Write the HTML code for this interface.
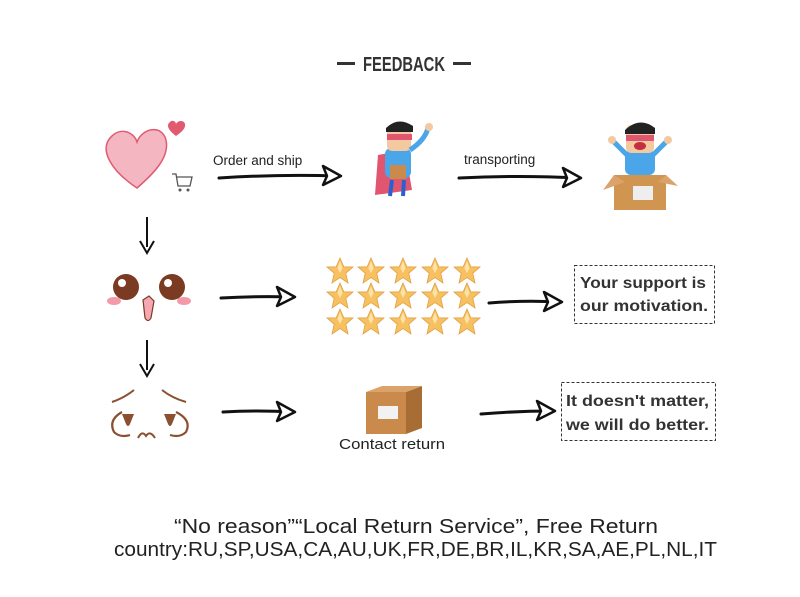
<!DOCTYPE html>
<html><head><meta charset="utf-8"><style>
html,body{margin:0;padding:0;background:#fff}
svg{display:block}
text{font-family:"Liberation Sans",sans-serif}
</style></head><body>
<svg width="800" height="597" viewBox="0 0 800 597" xmlns="http://www.w3.org/2000/svg">
<defs>
<g id="star"><polygon points="0,-13 3.8,-4.2 13,-4 5.8,2.2 8,12 0,6.6 -8,12 -5.8,2.2 -13,-4 -3.8,-4.2" fill="#f7c060" stroke="#e0a040" stroke-width="0.8"/><polygon points="0,-10 2.6,-3 0,2 -2.6,-3" fill="#fde3a8"/></g>
<g id="head"><path d="M-18,-10 L0,0 L-18,9 L-14,0 Z" stroke="#111" stroke-width="2.5" fill="#fff" stroke-linejoin="round"/></g>
<g id="varr"><path d="M0,0 L0,30" stroke="#111" stroke-width="2" fill="none"/><path d="M-7,24 L0,36 L7,24" stroke="#111" stroke-width="2" fill="none"/></g>
<g id="box"><polygon points="0,8 40,8 40,50 0,50" fill="#c98a4c"/><polygon points="40,8 56,2 56,44 40,50" fill="#a86c35"/><polygon points="0,8 16,2 56,2 40,8" fill="#dba36a"/><rect x="12" y="22" width="20" height="13" fill="#f2f2f2"/></g>
</defs>
<!-- title -->
<rect x="337" y="62" width="18" height="3" fill="#333"/>
<rect x="453" y="62" width="18" height="3" fill="#333"/>
<text x="404" y="71" font-size="20" font-weight="bold" fill="#333" text-anchor="middle" textLength="82" lengthAdjust="spacingAndGlyphs">FEEDBACK</text>
<!-- heart -->
<path d="M137,188 C110,170 100,150 110,138 C120,126 134,132 137,142 C142,128 162,124 166,140 C170,158 152,175 137,188 Z" fill="#f4b6c0" stroke="#e05a70" stroke-width="1.5"/>
<path d="M176,136 C168,130 166,125 170,122 C173,119 176,122 176,124 C178,120 184,120 185,124 C186,129 180,133 176,136Z" fill="#e05a70"/>
<path d="M172,174 L176,174 L178,186 L190,186 L192,177 L177,177" stroke="#555" stroke-width="1.3" fill="none"/>
<circle cx="180" cy="190" r="1.5" fill="#555"/><circle cx="188" cy="190" r="1.5" fill="#555"/>
<!-- arrows row1 -->
<text x="213" y="165" font-size="13.5" fill="#222">Order and ship</text>
<path d="M219,178 Q280,174 338,176" stroke="#111" stroke-width="3" fill="none" stroke-linecap="round"/><use href="#head" x="341" y="176"/>
<text x="464" y="164" font-size="13.5" fill="#222">transporting</text>
<path d="M459,178 Q520,175 578,178" stroke="#111" stroke-width="3" fill="none" stroke-linecap="round"/><use href="#head" x="581" y="178"/>
<!-- hero 1 -->
<path d="M378,155 L405,150 L412,190 L375,195 Z" fill="#e05570"/>
<rect x="385" y="148" width="26" height="30" rx="6" fill="#4aa6e8"/>
<rect x="387" y="125" width="24" height="26" rx="5" fill="#f2c9a0"/>
<path d="M386,128 Q398,116 413,126 L413,132 L386,132 Z" fill="#222"/>
<rect x="387" y="134" width="25" height="6" fill="#e05570"/>
<path d="M410,150 Q425,140 428,128" stroke="#4aa6e8" stroke-width="5" fill="none"/>
<circle cx="429" cy="127" r="4" fill="#f2c9a0"/>
<rect x="390" y="165" width="16" height="14" fill="#c98a4c"/>
<path d="M392,180 L390,196 M404,180 L403,196" stroke="#2a60d0" stroke-width="4"/>
<!-- hero 2 in box -->
<rect x="625" y="150" width="30" height="25" rx="6" fill="#4aa6e8"/>
<rect x="626" y="125" width="28" height="28" rx="5" fill="#f2c9a0"/>
<path d="M625,130 Q640,116 655,128 L655,134 L625,134 Z" fill="#222"/>
<rect x="626" y="135" width="28" height="6" fill="#e05570"/>
<ellipse cx="640" cy="146" rx="6" ry="4" fill="#c03040"/>
<path d="M627,155 L612,140 M653,155 L668,140" stroke="#4aa6e8" stroke-width="5"/>
<circle cx="612" cy="140" r="4" fill="#f2c9a0"/><circle cx="668" cy="140" r="4" fill="#f2c9a0"/>
<polygon points="614,175 666,175 666,210 614,210" fill="#d09550"/>
<polygon points="614,175 603,190 625,182" fill="#dba36a"/><polygon points="666,175 678,186 658,182" fill="#dba36a"/>
<rect x="633" y="186" width="20" height="14" fill="#eee"/>
<!-- vertical arrows -->
<use href="#varr" x="147" y="217"/>
<use href="#varr" x="147" y="340"/>
<!-- happy face -->
<circle cx="126" cy="287" r="13" fill="#7a3b22"/><circle cx="172" cy="287" r="13" fill="#7a3b22"/>
<circle cx="122" cy="283" r="4" fill="#fff"/><circle cx="168" cy="283" r="4" fill="#fff"/>
<ellipse cx="114" cy="301" rx="7" ry="4" fill="#f29aa8"/><ellipse cx="184" cy="301" rx="7" ry="4" fill="#f29aa8"/>
<path d="M143,300 L149,296 L154,301 L151,318 Q148,323 145,318 Z" fill="#f6a7b4" stroke="#7a3b22" stroke-width="1.2"/>
<!-- stars -->
<g>
<use href="#star" x="340" y="271"/><use href="#star" x="371" y="271"/><use href="#star" x="403" y="271"/><use href="#star" x="435" y="271"/><use href="#star" x="467" y="271"/>
<use href="#star" x="340" y="296"/><use href="#star" x="371" y="296"/><use href="#star" x="403" y="296"/><use href="#star" x="435" y="296"/><use href="#star" x="467" y="296"/>
<use href="#star" x="340" y="322"/><use href="#star" x="371" y="322"/><use href="#star" x="403" y="322"/><use href="#star" x="435" y="322"/><use href="#star" x="467" y="322"/>
</g>
<path d="M221,298 Q255,296 292,297" stroke="#111" stroke-width="3" fill="none" stroke-linecap="round"/><use href="#head" x="295" y="297"/>
<path d="M489,303 Q525,300 559,302" stroke="#111" stroke-width="3" fill="none" stroke-linecap="round"/><use href="#head" x="562" y="302"/>
<rect x="574.5" y="265.5" width="140" height="58" fill="none" stroke="#333" stroke-dasharray="3,2"/>
<text x="580" y="288" font-size="16" fill="#333" font-weight="bold" textLength="126" lengthAdjust="spacingAndGlyphs">Your support is</text>
<text x="580" y="311" font-size="16" fill="#333" font-weight="bold" textLength="128" lengthAdjust="spacingAndGlyphs">our motivation.</text>
<!-- sad face -->
<path d="M112,402 Q124,398 134,390 M162,390 Q172,398 186,402" stroke="#8a5030" stroke-width="2" fill="none"/>
<path d="M122,412 Q108,420 114,432 Q120,438 130,435" stroke="#8a5030" stroke-width="2.2" fill="none"/>
<path d="M176,412 Q192,420 186,432 Q180,438 170,435" stroke="#8a5030" stroke-width="2.2" fill="none"/>
<path d="M122,414 L134,414 L130,424 Q128,428 126,424 Z" fill="#8a5030"/>
<path d="M164,414 L176,414 L172,424 Q170,428 168,424 Z" fill="#8a5030"/>
<path d="M138,438 Q142,430 146,436 Q150,430 155,438" stroke="#8a5030" stroke-width="2" fill="none"/>
<path d="M223,412 Q258,410 292,412" stroke="#111" stroke-width="3" fill="none" stroke-linecap="round"/><use href="#head" x="295" y="412"/>
<use href="#box" x="366" y="384"/>
<text x="392" y="449" font-size="15" fill="#222" text-anchor="middle" textLength="106" lengthAdjust="spacingAndGlyphs">Contact return</text>
<path d="M481,414 Q518,411 552,411" stroke="#111" stroke-width="3" fill="none" stroke-linecap="round"/><use href="#head" x="555" y="411"/>
<rect x="561.5" y="382.5" width="154" height="58" fill="none" stroke="#333" stroke-dasharray="3,2"/>
<text x="566" y="406" font-size="16" fill="#333" font-weight="bold" textLength="143" lengthAdjust="spacingAndGlyphs">It doesn't matter,</text>
<text x="566" y="430" font-size="16" fill="#333" font-weight="bold" textLength="143" lengthAdjust="spacingAndGlyphs">we will do better.</text>
<!-- bottom -->
<text x="174" y="533" font-size="20" fill="#222" textLength="484" lengthAdjust="spacingAndGlyphs">“No reason”“Local Return Service”,  Free Return</text>
<text x="114" y="556" font-size="20" fill="#222" textLength="603" lengthAdjust="spacingAndGlyphs">country:RU,SP,USA,CA,AU,UK,FR,DE,BR,IL,KR,SA,AE,PL,NL,IT</text>
</svg>
</body></html>
